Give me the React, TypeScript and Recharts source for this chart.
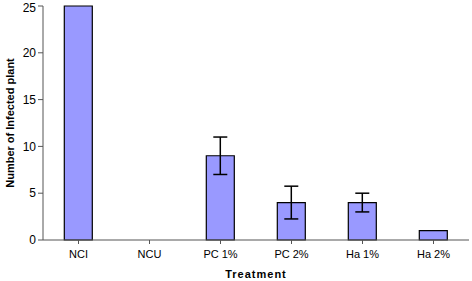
import React from "react";
import { BarChart, Bar, XAxis, YAxis, ErrorBar } from "recharts";

const categories = ["NCI", "NCU", "PC 1%", "PC 2%", "Ha 1%", "Ha 2%"];
const values = [25, 0, 9, 4, 4, 1];
const errors = [0, 0, 2, 1.75, 1, 0];
const yTicks = [0, 5, 10, 15, 20, 25];

const data = categories.map((c, i) => ({ name: c, value: values[i], err: errors[i] }));

const font = "'Liberation Sans', Arial, sans-serif";

export default function App() {
  return (
    <div style={{ position: "absolute", left: 0, top: 0, width: 472, height: 281, background: "#fff" }}>
      <BarChart
        width={472}
        height={281}
        data={data}
        margin={{ top: 6, right: 3, left: 0, bottom: 0 }}
        barCategoryGap="30%"
      >
        <XAxis
          dataKey="name"
          height={41}
          tickLine={{ stroke: "#555" }}
          axisLine={{ stroke: "#555" }}
          tickSize={4}
          tick={{ fill: "#000", fontSize: 11, fontFamily: font }}
          tickMargin={6}
          label={{
            value: "Treatment",
            position: "insideBottom",
            offset: 3,
            fill: "#000",
            fontSize: 11,
            fontWeight: "bold",
            fontFamily: font,
            letterSpacing: 1,
          }}
        />
        <XAxis
          xAxisId="top"
          dataKey="name"
          orientation="top"
          height={0}
          tick={false}
          tickLine={false}
          axisLine={{ stroke: "#d8d8d8" }}
        />
        <YAxis
          domain={[0, 25]}
          ticks={yTicks}
          width={43}
          tickSize={5}
          tickLine={{ stroke: "#555" }}
          axisLine={{ stroke: "#555" }}
          tick={{ fill: "#000", fontSize: 12, fontFamily: font }}
          tickMargin={2}
          label={{
            value: "Number of Infected plant",
            angle: -90,
            position: "insideLeft",
            offset: 0,
            dx: 10,
            fill: "#000",
            fontSize: 11,
            fontWeight: "bold",
            fontFamily: font,
            style: { textAnchor: "middle" },
          }}
        />
        <YAxis
          yAxisId="right"
          orientation="right"
          width={0}
          tick={false}
          tickLine={false}
          axisLine={{ stroke: "#d8d8d8" }}
        />
        <Bar dataKey="value" fill="#9999FF" stroke="#000" strokeWidth={1.2} isAnimationActive={false}>
          <ErrorBar dataKey="err" width={7} stroke="#000" strokeWidth={1.5} direction="y" />
        </Bar>
      </BarChart>
    </div>
  );
}
